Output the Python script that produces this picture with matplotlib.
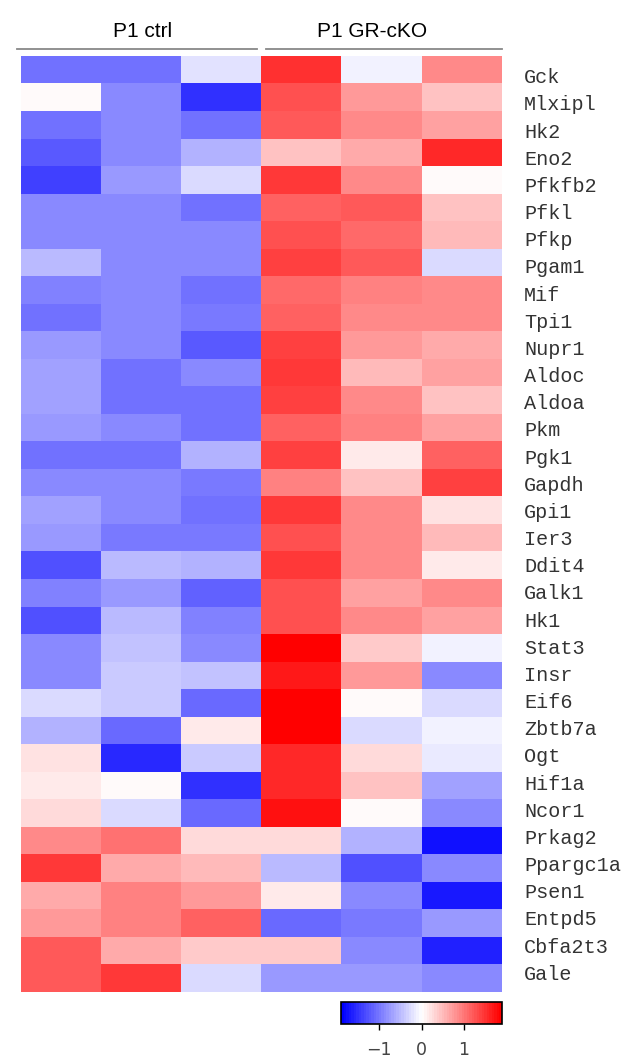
import numpy as np
import matplotlib
matplotlib.use('Agg')
import matplotlib.pyplot as plt
from matplotlib.lines import Line2D

# gene rows (top to bottom) and sample columns
genes = ['Gck', 'Mlxipl', 'Hk2', 'Eno2', 'Pfkfb2', 'Pfkl', 'Pfkp', 'Pgam1',
         'Mif', 'Tpi1', 'Nupr1', 'Aldoc', 'Aldoa', 'Pkm', 'Pgk1', 'Gapdh',
         'Gpi1', 'Ier3', 'Ddit4', 'Galk1', 'Hk1', 'Stat3', 'Insr', 'Eif6',
         'Zbtb7a', 'Ogt', 'Hif1a', 'Ncor1', 'Prkag2', 'Ppargc1a', 'Psen1',
         'Entpd5', 'Cbfa2t3', 'Gale']
groups = ['P1 ctrl', 'P1 GR-cKO']

# row-scaled expression, 3 ctrl + 3 cKO replicates per gene
ctrl = [
    [-1.05, -1.05, -0.21], [0.04, -0.89, -1.52], [-1.01, -0.84, -1.05],
    [-1.20, -0.84, -0.59], [-1.39, -0.76, -0.27], [-0.84, -0.84, -1.05],
    [-0.89, -0.89, -0.89], [-0.49, -0.89, -0.89], [-0.95, -0.89, -1.05],
    [-1.05, -0.84, -0.99], [-0.76, -0.84, -1.20], [-0.68, -1.05, -0.89],
    [-0.68, -1.05, -1.01], [-0.76, -0.89, -1.05], [-1.05, -1.05, -0.59],
    [-0.84, -0.89, -0.99], [-0.68, -0.89, -1.05], [-0.76, -0.99, -0.99],
    [-1.27, -0.51, -0.59], [-0.95, -0.76, -1.14], [-1.27, -0.49, -0.95],
    [-0.84, -0.42, -0.89], [-0.89, -0.36, -0.42], [-0.27, -0.36, -1.12],
    [-0.59, -1.12, 0.13], [0.21, -1.58, -0.36], [0.13, 0.04, -1.54],
    [0.29, -0.27, -1.12], [0.84, 1.05, 0.29], [1.48, 0.61, 0.53],
    [0.61, 0.95, 0.76], [0.76, 0.95, 1.14], [1.20, 0.61, 0.38],
    [1.20, 1.43, -0.27],
]
cko = [
    [1.52, -0.06, 0.84], [1.29, 0.76, 0.46], [1.24, 0.84, 0.68],
    [0.46, 0.61, 1.56], [1.43, 0.84, 0.04], [1.18, 1.24, 0.46],
    [1.29, 1.08, 0.53], [1.37, 1.24, -0.27], [1.08, 0.95, 0.84],
    [1.18, 0.89, 0.84], [1.37, 0.76, 0.61], [1.48, 0.53, 0.68],
    [1.37, 0.89, 0.46], [1.18, 0.95, 0.68], [1.37, 0.13, 1.14],
    [0.95, 0.46, 1.37], [1.43, 0.89, 0.21], [1.29, 0.89, 0.53],
    [1.48, 0.84, 0.13], [1.29, 0.68, 0.84], [1.29, 0.84, 0.68],
    [1.90, 0.38, -0.06], [1.71, 0.76, -0.84], [1.90, 0.04, -0.27],
    [1.90, -0.27, -0.06], [1.56, 0.29, -0.13], [1.56, 0.46, -0.68],
    [1.75, 0.04, -0.84], [0.29, -0.59, -1.75], [-0.51, -1.27, -0.84],
    [0.13, -0.84, -1.67], [-1.12, -0.99, -0.76], [0.38, -0.84, -1.63],
    [-0.76, -0.76, -0.84],
]
cbar_ticks = [-1, 0, 1]

W, H = 631, 1058
fig = plt.figure(figsize=(W / 100, H / 100), dpi=100)

def fx(px):
    return px / W

def fy(py):
    return 1 - py / H

data = np.hstack([np.array(ctrl), np.array(cko)])
cmap = plt.get_cmap('bwr', 64)

ax = fig.add_axes([fx(21), fy(992), fx(502) - fx(21), fy(56) - fy(992)])
im = ax.imshow(data, cmap=cmap, vmin=-1.9, vmax=1.9, aspect='auto',
               interpolation='nearest')
ax.set_xticks([])
ax.yaxis.tick_right()
# row labels sit on a slightly tighter pitch than the rows themselves
n = len(genes)
mid = (n - 1) / 2
ax.set_yticks([mid + (i - mid) * 0.987 for i in range(n)])
ax.set_yticklabels(genes, family='Liberation Mono', fontsize=14.5, color='#333333')
ax.tick_params(axis='y', length=0, pad=16)
for s in ax.spines.values():
    s.set_visible(False)

# group brackets above the columns
for (x0, x1), label, tx in zip([(17, 257), (266, 502)], groups, [143, 372]):
    fig.add_artist(Line2D([fx(x0), fx(x1)], [fy(49), fy(49)], color='#888888',
                          lw=1.3, transform=fig.transFigure))
    fig.text(fx(tx), fy(37), label, ha='center', va='baseline',
             family='Liberation Sans', fontsize=15, color='black')

cax = fig.add_axes([fx(341), fy(1024), fx(502) - fx(341), fy(1002) - fy(1024)])
cb = fig.colorbar(im, cax=cax, orientation='horizontal', ticks=cbar_ticks)
cb.outline.set_linewidth(1.2)
cb.ax.tick_params(length=4, width=1, labelsize=12.5, labelcolor='#444444', pad=8)

fig.savefig('out.png', dpi=100)
